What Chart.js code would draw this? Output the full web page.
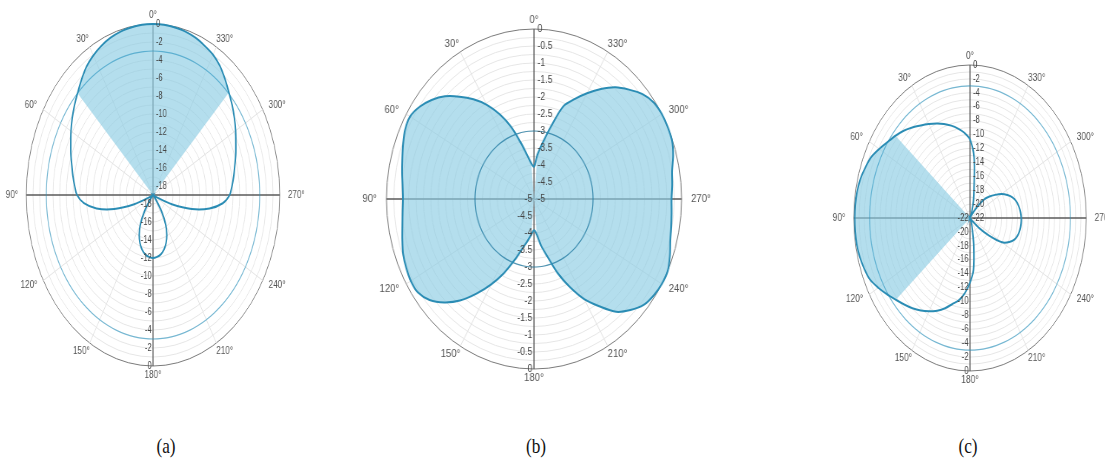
<!DOCTYPE html>
<html>
<head>
<meta charset="utf-8">
<script src="https://cdn.jsdelivr.net/npm/chart.js@4.4.1/dist/chart.umd.min.js"></script>
<style>
  body { margin: 0; width: 1105px; height: 471px; background: #fff; position: relative; overflow: hidden; }
  canvas.polar { position: absolute; }
  .cap { position: absolute; top: 434px; width: 40px; text-align: center; font: 21px "Liberation Serif", serif; color: #111; transform: scaleX(0.82); }
</style>
</head>
<body>
<canvas id="polarA" class="polar"></canvas>
<canvas id="polarB" class="polar"></canvas>
<canvas id="polarC" class="polar"></canvas>
<div class="cap" style="left:146px">(a)</div>
<div class="cap" style="left:516px">(b)</div>
<div class="cap" style="left:948px">(c)</div>
<script>
// measurement angles (deg, counter-clockwise from front)
const angles = [0, 5, 10, 15, 20, 25, 30, 35, 40, 45, 50, 55, 60, 65, 70, 75, 80, 85,
  90, 95, 100, 105, 110, 115, 120, 125, 130, 135, 140, 145, 150, 155, 160, 165, 170, 175,
  180, 185, 190, 195, 200, 205, 210, 215, 220, 225, 230, 235, 240, 245, 250, 255, 260, 265,
  270, 275, 280, 285, 290, 295, 300, 305, 310, 315, 320, 325, 330, 335, 340, 345, 350, 355];

const degreeLabels = ['0°', '30°', '60°', '90°', '120°', '150°', '180°', '210°', '240°', '270°', '300°', '330°'];

// (a) supercardioid, dB
const patternA = [0, 0, -0.1, -0.2, -0.4, -0.7, -1.1, -1.6, -2.3, -3.0, -3.6, -4.2, -4.8, -5.4, -5.9, -6.4, -6.8, -7.2,
  -7.6, -8.6, -10.4, -13.0, -16.0, -18.5, -19, -19, -19, -19, -18.3, -16.7, -15.2, -14.1, -13.3, -12.7, -12.3, -12.1,
  -12.0, -12.1, -12.3, -12.7, -13.3, -14.1, -15.2, -16.7, -18.3, -19, -19, -19, -19, -18.5, -16.0, -13.0, -10.4, -8.5,
  -7.5, -7.1, -6.7, -6.3, -5.8, -5.3, -4.7, -4.1, -3.5, -2.9, -2.2, -1.5, -1.0, -0.7, -0.4, -0.2, -0.1, 0];
const ticksA = [0, -2, -4, -6, -8, -10, -12, -14, -16, -18];
const wedgeA = [315, 45];

// (b) figure-of-eight, dB
const patternB = [-4.05, -3.95, -3.7, -3.3, -2.75, -2.25, -1.8, -1.42, -1.07, -0.73, -0.47, -0.27, -0.15, -0.18, -0.28, -0.38, -0.46, -0.53,
  -0.56, -0.53, -0.47, -0.38, -0.28, -0.22, -0.18, -0.2, -0.38, -0.7, -1.1, -1.6, -2.1, -2.6, -3.1, -3.5, -3.75, -3.95,
  -4.08, -3.95, -3.6, -3.25, -2.7, -2.15, -1.6, -1.15, -0.67, -0.38, -0.15, -0.05, 0, 0, -0.1, -0.22, -0.28, -0.32,
  -0.34, -0.3, -0.25, -0.12, -0.02, 0, 0, -0.05, -0.2, -0.45, -0.71, -1.05, -1.41, -1.76, -2.1, -2.8, -3.33, -3.7];
const ticksB = [0, -0.5, -1, -1.5, -2, -2.5, -3, -3.5, -4, -4.5, -5];
const wedgeB = [5, 175, 185, 355];

// (c) hypercardioid turned to 90°, dB
const patternC = [-10.7, -9.7, -8.95, -8.25, -7.6, -7.0, -6.4, -5.75, -5.0, -4.25, -3.6, -2.95, -2.15, -1.35, -0.9, -0.5, -0.3, -0.22,
  -0.2, -0.2, -0.23, -0.4, -0.7, -1.1, -1.95, -2.85, -3.7, -4.4, -5.05, -5.75, -6.5, -7.3, -8.2, -9.2, -10.0, -11.2,
  -12.7, -14.5, -17.9, -20.3, -21.2, -21.7, -22, -22, -22, -21.5, -19.8, -17.6, -15.0, -13.8, -13.0, -12.6, -12.4, -12.3,
  -12.3, -12.4, -12.6, -12.9, -13.4, -14.2, -15.1, -16.2, -17.2, -18.2, -20.0, -21.5, -22, -22, -21, -19.5, -17.6, -13.2];
const ticksC = [0, -2, -4, -6, -8, -10, -12, -14, -16, -18, -20, -22];
const wedgeC = [50, 130];

const refLevel = -3;

const lineColor = '#2a8cb4';
const ringColor = 'rgba(40, 150, 195, 0.6)';
const fillColor = 'rgba(140, 205, 228, 0.65)';

// radar goes clockwise from the top, the angles above run the other way
function toChartOrder(arr) {
  const n = angles.length;
  return angles.map((a, i) => arr[(n - i) % n]);
}

function inRanges(a, ranges) {
  for (let k = 0; k < ranges.length; k += 2) {
    const lo = ranges[k], hi = ranges[k + 1];
    if (lo <= hi ? (a >= lo && a <= hi) : (a >= lo || a <= hi)) return true;
  }
  return false;
}

const polarText = {
  id: 'polarText',
  afterDraw(chart, args, opts) {
    const r = chart.scales.r;
    const ctx = chart.ctx;
    const n = angles.length;
    ctx.save();
    ctx.fillStyle = '#555';
    ctx.textBaseline = 'middle';
    ctx.textAlign = 'center';
    ctx.font = '11px "Liberation Sans", Arial, sans-serif';
    degreeLabels.forEach((txt, k) => {
      const idx = (n - k * 6) % n;
      const p = r.getPointPosition(idx, r.drawingArea + 9);
      const w = ctx.measureText(txt).width;
      ctx.fillText(txt, p.x + Math.cos(p.angle) * (w / 2 + 2), p.y);
    });
    ctx.font = '10px "Liberation Sans", Arial, sans-serif';
    ctx.fillStyle = '#444';
    opts.ticks.forEach(v => {
      const d = r.getDistanceFromCenterForValue(v);
      const txt = String(v);
      ctx.textAlign = 'left';
      ctx.fillText(txt, r.xCenter + 4, r.yCenter - d);
      ctx.textAlign = 'right';
      ctx.fillText(txt, r.xCenter - 2, r.yCenter + d);
    });
    ctx.restore();
  }
};

function makePolar(id, opt) {
  const canvas = document.getElementById(id);
  const pad = 40;
  const size = 2 * opt.radius + 2 * pad;
  const c = pad + opt.radius;
  canvas.width = size;
  canvas.height = size;
  canvas.style.width = size + 'px';
  canvas.style.height = size + 'px';
  canvas.style.left = (opt.cx - c) + 'px';
  canvas.style.top = (opt.cy - c) + 'px';
  canvas.style.transformOrigin = c + 'px ' + c + 'px';
  canvas.style.transform = 'scaleX(' + opt.squeeze + ')';

  const wedge = opt.pattern.map((v, i) => inRanges(angles[i], opt.wedge) ? v : opt.min);

  return new Chart(canvas, {
    type: 'radar',
    data: {
      labels: toChartOrder(angles).map(a => a + '°'),
      datasets: [
        { data: toChartOrder(opt.pattern), borderColor: lineColor, borderWidth: 2, fill: false, tension: 0.3 },
        { data: angles.map(() => refLevel), borderColor: opt.ringColor || ringColor, borderWidth: 1.2, fill: false, tension: 0.3 },
        { data: toChartOrder(wedge), borderColor: 'transparent', borderWidth: 0, backgroundColor: fillColor, fill: 'start', tension: 0 }
      ]
    },
    options: {
      responsive: false,
      devicePixelRatio: 1,
      animation: false,
      layout: { padding: pad },
      elements: { point: { radius: 0, hitRadius: 0 } },
      plugins: {
        legend: { display: false },
        tooltip: { enabled: false },
        polarText: { ticks: opt.ticks }
      },
      scales: {
        r: {
          min: opt.min,
          max: 0,
          ticks: { display: false, stepSize: opt.step },
          pointLabels: { display: false },
          grid: {
            circular: true,
            color: ctx => Math.abs(ctx.tick.value) < 1e-6 ? '#7a7a7a' : '#e6e6e6',
            lineWidth: 1
          },
          angleLines: {
            color: ctx => ctx.index % 18 === 0 ? '#5a5a5a' : '#e2e2e2',
            lineWidth: ctx => ctx.index % 6 === 0 ? (ctx.index % 18 === 0 ? 1.3 : 1) : 0
          }
        }
      }
    },
    plugins: [polarText]
  });
}

makePolar('polarA', { cx: 153, cy: 195, radius: 171, squeeze: 0.741, min: -19, step: 1, pattern: patternA, ticks: ticksA, wedge: wedgeA });
makePolar('polarB', { cx: 534, cy: 199, radius: 170, squeeze: 0.868, min: -5, step: 0.25, pattern: patternB, ticks: ticksB, wedge: wedgeB, ringColor: 'rgba(30, 120, 160, 0.75)' });
makePolar('polarC', { cx: 970, cy: 218, radius: 153, squeeze: 0.760, min: -22, step: 1, pattern: patternC, ticks: ticksC, wedge: wedgeC });
</script>
</body>
</html>
